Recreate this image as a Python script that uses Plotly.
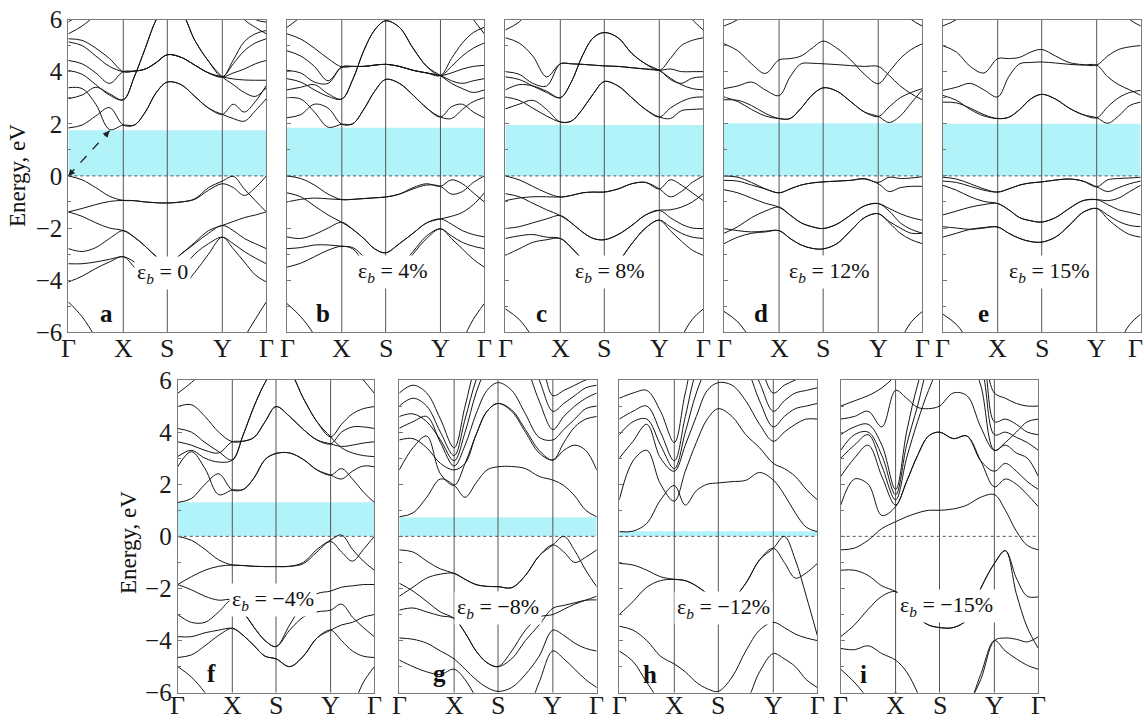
import plotly.graph_objects as go

# ---------------- data ----------------
K = [0, 0.25, 0.5, 0.75, 1.0, 1.2, 1.4, 1.6, 1.8, 2.05, 2.3, 2.55, 2.8, 3.0, 3.2, 3.4, 3.6]
K_TICKS = [0, 1.0, 1.8, 2.8, 3.6]
K_LABELS = ["Γ", "X", "S", "Y", "Γ"]
E_TICKS = [-6, -4, -2, 0, 2, 4, 6]
E_LABELS = ["−6", "−4", "−2", "0", "2", "4", "6"]

PANELS = ["a", "b", "c", "d", "e", "f", "g", "h", "i"]
STRAINS = ["0", "4%", "8%", "12%", "15%", "−4%", "−8%", "−12%", "−15%"]
GAPS = [1.75, 1.85, 1.95, 2.02, 2.0, 1.31, 0.73, 0.2, 0.0]
ARROW_TIP = [0.75, 1.73]

bands_a = [
    [1.84, 1.95, 2.30, 2.62, 1.95, 1.95, 2.45, 3.20, 3.60, 3.50, 3.05, 2.60, 2.36, 2.75, 2.45, 2.85, 3.47],
    [3.38, 3.35, 2.75, 1.78, 1.95, 1.95, 2.45, 3.20, 3.60, 3.50, 3.05, 2.60, 2.36, 2.20, 2.10, 2.50, 2.96],
    [2.96, 3.10, 3.40, 3.15, 2.92, 3.80, 4.90, 6.00, 6.60, 6.30, 5.20, 4.40, 3.80, 3.50, 3.20, 3.05, 3.38],
    [4.05, 3.90, 3.50, 3.10, 2.92, 3.80, 4.90, 6.00, 6.60, 6.30, 5.20, 4.40, 3.80, 4.45, 5.15, 5.45, 5.58],
    [4.43, 4.30, 3.95, 3.55, 4.00, 4.02, 4.10, 4.35, 4.65, 4.55, 4.25, 3.95, 3.80, 3.72, 3.68, 3.67, 3.67],
    [5.14, 5.00, 4.60, 4.20, 4.00, 4.02, 4.10, 4.35, 4.65, 4.55, 4.25, 3.95, 3.80, 3.95, 4.10, 4.30, 4.43],
    [5.26, 5.20, 4.90, 4.50, 4.00, 4.02, 4.10, 4.35, 4.65, 4.55, 4.25, 3.95, 3.80, 4.30, 4.80, 5.10, 5.26],
    [5.45, 5.75, 6.20, 7.00, 7.00, 7.00, 7.00, 7.00, 7.00, 7.00, 7.00, 7.00, 7.00, 6.60, 6.00, 5.70, 5.45],
    [5.90, 6.30, 6.90, 7.00, 7.00, 7.00, 7.00, 7.00, 7.00, 7.00, 7.00, 7.00, 7.00, 7.00, 6.40, 6.00, 5.90],
    [0.00, -0.15, -0.45, -0.78, -0.94, -0.95, -1.00, -1.03, -1.04, -1.00, -0.88, -0.45, -0.20, -0.02, -0.50, -0.95, -1.38],
    [-1.38, -1.25, -1.10, -0.98, -0.94, -0.95, -1.00, -1.03, -1.04, -1.00, -0.90, -0.55, -0.30, -0.45, -0.75, -0.45, 0.00],
    [-1.38, -1.55, -1.80, -2.00, -2.10, -2.35, -2.70, -3.10, -3.40, -3.00, -2.55, -2.10, -1.90, -1.75, -1.60, -1.50, -1.38],
    [-2.79, -2.90, -2.75, -2.40, -2.10, -2.35, -2.70, -3.10, -3.40, -3.00, -2.60, -2.20, -1.90, -2.10, -2.40, -2.60, -2.79],
    [-3.37, -3.37, -3.30, -3.20, -3.10, -3.30, -3.60, -3.90, -4.10, -3.60, -3.00, -2.60, -2.35, -2.60, -2.90, -3.15, -3.37],
    [-4.07, -3.85, -3.55, -3.30, -3.10, -3.50, -3.90, -4.15, -4.20, -4.25, -3.70, -3.00, -2.35, -2.80, -3.30, -3.80, -4.07],
    [-4.83, -5.40, -6.20, -7.00, -7.00, -7.00, -7.00, -7.00, -7.00, -7.00, -7.00, -7.00, -7.00, -7.00, -6.20, -5.50, -4.83],
]

bands_b = [
    [2.23, 2.35, 2.75, 2.60, 1.98, 2.00, 2.55, 3.25, 3.70, 3.55, 3.10, 2.60, 2.26, 2.65, 2.75, 2.45, 2.23],
    [3.00, 2.95, 2.45, 1.87, 1.98, 2.00, 2.55, 3.25, 3.70, 3.55, 3.10, 2.60, 2.26, 2.20, 2.55, 2.85, 3.00],
    [3.30, 3.40, 3.50, 3.15, 2.95, 3.70, 4.80, 5.60, 5.95, 5.70, 4.90, 4.20, 3.85, 3.55, 3.35, 3.20, 3.30],
    [3.73, 3.60, 3.30, 3.05, 2.95, 3.70, 4.80, 5.60, 5.95, 5.70, 4.90, 4.20, 3.85, 4.20, 4.60, 4.90, 5.10],
    [4.05, 3.95, 3.60, 3.55, 4.18, 4.20, 4.20, 4.25, 4.28, 4.20, 4.05, 3.95, 3.85, 3.65, 3.55, 3.65, 3.73],
    [4.80, 4.60, 4.20, 3.65, 4.18, 4.20, 4.20, 4.25, 4.28, 4.20, 4.05, 3.95, 3.85, 3.95, 4.10, 4.20, 4.24],
    [5.45, 5.25, 4.90, 4.50, 4.18, 4.20, 4.20, 4.25, 4.28, 4.20, 4.05, 3.95, 3.85, 4.50, 5.10, 5.50, 5.70],
    [5.70, 6.10, 6.60, 7.00, 7.00, 7.00, 7.00, 7.00, 7.00, 7.00, 7.00, 7.00, 7.00, 7.00, 6.60, 6.00, 5.45],
    [0.00, -0.10, -0.35, -0.70, -0.91, -0.90, -0.87, -0.84, -0.81, -0.70, -0.45, -0.30, -0.40, -0.15, -0.30, -0.65, -1.00],
    [-1.00, -0.90, -0.85, -0.88, -0.91, -0.90, -0.87, -0.84, -0.81, -0.70, -0.50, -0.35, -0.40, -0.70, -0.60, -0.25, 0.00],
    [-0.65, -0.80, -1.15, -1.50, -1.78, -2.05, -2.40, -2.80, -2.95, -2.60, -2.20, -1.80, -1.65, -1.55, -1.40, -1.10, -0.65],
    [-2.34, -2.40, -2.25, -2.00, -1.78, -2.05, -2.40, -2.80, -2.95, -2.60, -2.20, -1.80, -1.65, -1.85, -2.10, -2.25, -2.34],
    [-2.79, -2.75, -2.65, -2.65, -2.70, -2.75, -3.10, -3.50, -3.80, -3.50, -2.90, -2.30, -2.03, -2.30, -2.55, -2.70, -2.79],
    [-3.50, -3.35, -3.10, -2.85, -2.70, -2.80, -3.30, -3.70, -3.90, -3.70, -3.00, -2.40, -2.03, -2.40, -2.80, -3.20, -3.50],
    [-4.90, -5.40, -6.10, -7.00, -7.00, -7.00, -7.00, -7.00, -7.00, -7.00, -7.00, -7.00, -7.00, -7.00, -6.30, -5.50, -4.90],
]

bands_c = [
    [2.57, 2.75, 2.90, 2.55, 2.07, 2.10, 2.55, 3.15, 3.62, 3.45, 3.00, 2.55, 2.26, 2.60, 2.85, 3.00, 3.03],
    [3.03, 2.90, 2.60, 2.30, 2.07, 2.10, 2.55, 3.15, 3.62, 3.45, 3.00, 2.55, 2.26, 2.20, 2.50, 2.55, 2.57],
    [3.30, 3.50, 3.45, 3.25, 3.00, 3.60, 4.60, 5.30, 5.50, 5.30, 4.70, 4.30, 4.05, 3.75, 3.50, 3.35, 3.30],
    [3.80, 3.70, 3.45, 3.20, 3.00, 3.60, 4.60, 5.30, 5.50, 5.30, 4.70, 4.30, 4.05, 4.50, 5.00, 5.20, 5.30],
    [4.00, 3.90, 3.55, 3.45, 4.30, 4.30, 4.28, 4.25, 4.22, 4.20, 4.15, 4.10, 4.05, 3.70, 3.55, 3.75, 3.80],
    [5.30, 5.10, 4.60, 3.80, 4.30, 4.30, 4.28, 4.25, 4.22, 4.20, 4.15, 4.10, 4.05, 4.10, 4.00, 4.00, 4.00],
    [5.60, 5.90, 6.50, 7.00, 7.00, 7.00, 7.00, 7.00, 7.00, 7.00, 7.00, 7.00, 7.00, 7.00, 6.60, 6.00, 5.60],
    [0.00, -0.15, -0.40, -0.65, -0.81, -0.75, -0.65, -0.62, -0.62, -0.50, -0.30, -0.25, -0.50, -0.15, -0.35, -0.65, -0.95],
    [-0.95, -0.85, -0.80, -0.80, -0.81, -0.75, -0.65, -0.62, -0.62, -0.50, -0.30, -0.25, -0.50, -0.80, -0.60, -0.25, 0.00],
    [-0.68, -0.80, -1.05, -1.30, -1.52, -1.80, -2.15, -2.40, -2.45, -2.25, -1.90, -1.50, -1.32, -1.30, -1.20, -1.00, -0.68],
    [-2.02, -1.95, -1.80, -1.65, -1.52, -1.80, -2.15, -2.40, -2.45, -2.25, -1.90, -1.50, -1.32, -1.60, -1.85, -2.00, -2.02],
    [-2.40, -2.30, -2.25, -2.35, -2.40, -2.75, -3.20, -3.55, -3.70, -3.30, -2.60, -2.00, -1.70, -1.95, -2.20, -2.35, -2.40],
    [-3.05, -2.80, -2.55, -2.45, -2.40, -2.75, -3.20, -3.55, -3.70, -3.30, -2.60, -2.00, -1.70, -2.10, -2.50, -2.85, -3.05],
    [-5.10, -5.50, -6.20, -7.00, -7.00, -7.00, -7.00, -7.00, -7.00, -7.00, -7.00, -7.00, -7.00, -7.00, -6.20, -5.50, -5.10],
]

bands_d = [
    [2.92, 2.90, 2.70, 2.40, 2.20, 2.20, 2.60, 3.10, 3.38, 3.25, 2.85, 2.45, 2.28, 2.05, 2.30, 2.80, 3.30],
    [3.03, 2.85, 2.55, 2.30, 2.20, 2.20, 2.60, 3.10, 3.38, 3.25, 2.85, 2.45, 2.28, 2.65, 3.00, 3.20, 3.35],
    [3.35, 3.45, 3.60, 3.30, 3.08, 3.80, 4.30, 4.32, 4.30, 4.27, 4.23, 4.20, 4.20, 3.85, 3.45, 3.15, 2.92],
    [5.07, 4.80, 4.30, 3.93, 4.45, 4.50, 4.60, 4.90, 5.17, 4.90, 4.45, 3.90, 3.54, 4.00, 4.50, 4.85, 5.07],
    [5.75, 6.00, 6.50, 7.00, 7.00, 7.00, 7.00, 7.00, 7.00, 7.00, 7.00, 7.00, 7.00, 7.00, 6.50, 6.00, 5.75],
    [0.00, -0.05, -0.25, -0.50, -0.65, -0.50, -0.35, -0.27, -0.23, -0.20, -0.17, -0.10, -0.25, -0.05, -0.10, -0.08, -0.03],
    [-0.17, -0.20, -0.35, -0.50, -0.65, -0.50, -0.35, -0.27, -0.23, -0.20, -0.17, -0.12, -0.30, -0.60, -0.45, -0.40, -0.40],
    [-0.53, -0.65, -0.85, -1.05, -1.20, -1.50, -1.80, -1.95, -2.02, -1.85, -1.50, -1.15, -1.06, -1.25, -1.45, -1.60, -1.70],
    [-2.20, -1.95, -1.60, -1.35, -1.20, -1.50, -1.80, -1.95, -2.02, -1.85, -1.50, -1.15, -1.06, -1.35, -1.80, -2.05, -2.20],
    [-2.60, -2.35, -2.20, -2.15, -2.10, -2.40, -2.65, -2.78, -2.80, -2.60, -2.10, -1.60, -1.45, -1.75, -2.00, -2.20, -2.20],
    [-2.02, -2.10, -2.15, -2.12, -2.10, -2.40, -2.65, -2.78, -2.80, -2.60, -2.10, -1.60, -1.45, -1.80, -2.20, -2.45, -2.60],
    [-5.20, -5.60, -6.30, -7.00, -7.00, -7.00, -7.00, -7.00, -7.00, -7.00, -7.00, -7.00, -7.00, -7.00, -6.30, -5.60, -5.20],
]

bands_e = [
    [2.83, 2.80, 2.60, 2.35, 2.20, 2.25, 2.55, 2.95, 3.13, 2.95, 2.60, 2.35, 2.23, 2.02, 2.30, 2.70, 2.83],
    [3.09, 2.90, 2.55, 2.30, 2.20, 2.25, 2.55, 2.95, 3.13, 2.95, 2.60, 2.35, 2.23, 2.65, 3.00, 3.20, 3.28],
    [3.28, 3.40, 3.55, 3.30, 3.03, 3.80, 4.30, 4.35, 4.37, 4.33, 4.28, 4.25, 4.25, 3.80, 3.50, 3.30, 3.09],
    [5.00, 4.75, 4.20, 3.95, 4.50, 4.50, 4.55, 4.75, 4.85, 4.60, 4.35, 4.27, 4.25, 4.60, 4.85, 4.95, 5.00],
    [5.75, 6.00, 6.50, 7.00, 7.00, 7.00, 7.00, 7.00, 7.00, 7.00, 7.00, 7.00, 7.00, 7.00, 6.50, 6.00, 5.75],
    [-0.05, -0.12, -0.30, -0.50, -0.62, -0.50, -0.35, -0.27, -0.23, -0.16, -0.12, -0.20, -0.42, -0.15, -0.10, -0.08, -0.05],
    [-0.20, -0.25, -0.40, -0.55, -0.62, -0.50, -0.35, -0.27, -0.23, -0.16, -0.12, -0.20, -0.42, -0.60, -0.45, -0.30, -0.20],
    [-0.36, -0.55, -0.80, -0.98, -1.06, -1.30, -1.60, -1.72, -1.77, -1.60, -1.25, -0.95, -0.91, -1.10, -1.30, -1.40, -1.50],
    [-1.50, -1.35, -1.20, -1.10, -1.06, -1.30, -1.60, -1.72, -1.77, -1.60, -1.25, -0.95, -0.91, -0.95, -0.85, -0.60, -0.36],
    [-1.95, -2.00, -2.05, -2.00, -1.96, -2.20, -2.40, -2.52, -2.54, -2.35, -1.90, -1.40, -1.25, -1.50, -1.75, -1.90, -1.95],
    [-2.35, -2.20, -2.05, -1.98, -1.96, -2.20, -2.40, -2.52, -2.54, -2.35, -1.90, -1.40, -1.25, -1.65, -2.00, -2.25, -2.35],
    [-5.30, -5.70, -6.40, -7.00, -7.00, -7.00, -7.00, -7.00, -7.00, -7.00, -7.00, -7.00, -7.00, -7.00, -6.40, -5.70, -5.30],
]

bands_f = [
    [1.30, 1.45, 2.00, 2.40, 1.78, 1.80, 2.25, 2.95, 3.18, 3.20, 2.95, 2.55, 2.35, 2.60, 2.20, 1.70, 1.30],
    [2.67, 3.25, 2.60, 1.60, 1.78, 1.80, 2.25, 2.95, 3.18, 3.20, 2.95, 2.55, 2.35, 2.20, 2.50, 2.70, 2.67],
    [3.06, 3.30, 3.00, 2.85, 2.93, 3.90, 5.00, 5.90, 6.50, 6.30, 5.30, 4.40, 3.82, 3.40, 3.20, 3.10, 3.06],
    [3.63, 3.50, 3.30, 3.20, 3.63, 3.65, 3.80, 4.40, 4.98, 4.60, 4.10, 3.70, 3.55, 3.45, 3.50, 3.58, 3.63],
    [4.14, 4.00, 3.60, 3.25, 2.93, 3.90, 5.00, 5.90, 6.50, 6.30, 5.30, 4.40, 3.82, 4.30, 4.70, 4.90, 4.98],
    [4.98, 5.05, 4.60, 4.00, 3.63, 3.65, 3.80, 4.40, 4.98, 4.60, 4.10, 3.70, 3.55, 4.00, 4.20, 4.20, 4.14],
    [5.49, 5.90, 6.40, 7.00, 7.00, 7.00, 7.00, 7.00, 7.00, 7.00, 7.00, 7.00, 7.00, 7.00, 6.50, 6.00, 5.49],
    [0.00, -0.15, -0.50, -0.90, -1.10, -1.12, -1.15, -1.16, -1.16, -1.15, -1.00, -0.50, -0.14, 0.05, -0.50, -0.95, -1.30],
    [-1.85, -1.55, -1.30, -1.15, -1.10, -1.12, -1.15, -1.16, -1.16, -1.15, -1.05, -0.60, -0.20, -0.60, -0.95, -0.50, 0.00],
    [-1.85, -2.05, -2.30, -2.45, -2.44, -2.90, -3.50, -4.00, -4.23, -3.40, -2.60, -2.20, -2.10, -1.95, -1.90, -1.85, -1.85],
    [-3.00, -3.30, -3.30, -2.90, -2.44, -2.90, -3.50, -4.00, -4.23, -3.60, -3.10, -2.90, -2.83, -2.60, -3.10, -3.50, -3.85],
    [-4.65, -4.55, -4.20, -3.80, -3.53, -3.80, -4.20, -4.60, -4.70, -5.00, -4.60, -3.90, -3.60, -4.00, -4.40, -4.60, -4.65],
    [-3.85, -3.85, -3.70, -3.60, -3.53, -3.80, -4.20, -4.60, -4.70, -5.00, -4.60, -3.90, -3.60, -3.40, -3.30, -3.10, -3.00],
    [-5.00, -5.40, -6.00, -6.80, -7.00, -7.00, -7.00, -7.00, -7.00, -7.00, -7.00, -7.00, -7.00, -7.00, -6.50, -5.60, -5.00],
]

bands_g = [
    [0.75, 0.90, 1.50, 2.20, 1.96, 1.50, 2.05, 2.55, 2.67, 2.68, 2.60, 2.30, 2.16, 1.95, 1.55, 1.00, 0.75],
    [2.55, 3.40, 3.85, 2.40, 1.96, 2.80, 3.90, 4.80, 5.10, 4.80, 4.00, 3.20, 2.93, 3.30, 3.50, 3.30, 2.55],
    [3.70, 3.75, 3.40, 2.80, 2.55, 2.80, 3.90, 4.80, 5.10, 4.85, 4.10, 3.30, 2.93, 3.60, 4.20, 4.50, 4.60],
    [4.15, 4.40, 4.60, 3.60, 2.70, 3.50, 4.70, 5.60, 5.90, 5.60, 4.70, 3.80, 3.70, 4.10, 4.50, 4.90, 5.00],
    [4.60, 4.70, 4.40, 3.70, 2.90, 4.00, 5.50, 6.50, 7.00, 7.00, 6.50, 5.20, 4.10, 4.60, 5.00, 5.30, 5.50],
    [5.00, 5.30, 5.00, 4.00, 3.10, 4.50, 6.00, 7.00, 7.00, 7.00, 7.00, 6.00, 4.80, 5.10, 5.40, 5.70, 5.80],
    [5.50, 5.80, 5.50, 4.50, 3.40, 5.00, 6.50, 7.00, 7.00, 7.00, 7.00, 6.80, 5.40, 5.60, 5.80, 6.00, 6.10],
    [-0.52, -0.60, -0.95, -1.25, -1.42, -1.65, -1.85, -1.92, -1.93, -1.97, -1.50, -0.75, -0.33, 0.00, -0.55, -1.30, -1.93],
    [-2.30, -1.95, -1.60, -1.45, -1.42, -1.65, -1.85, -1.92, -1.93, -1.97, -1.50, -0.75, -0.33, -0.60, -1.00, -0.80, -0.52],
    [-1.80, -2.10, -2.50, -2.90, -3.15, -3.70, -4.40, -4.85, -5.00, -4.40, -3.60, -3.10, -3.00, -2.80, -2.60, -2.45, -2.30],
    [-2.83, -2.75, -2.90, -3.05, -3.15, -3.70, -4.40, -4.85, -5.00, -4.70, -4.00, -3.40, -2.76, -2.65, -2.55, -2.45, -2.44],
    [-3.90, -3.95, -4.10, -4.40, -4.70, -5.10, -5.50, -5.80, -5.95, -5.80, -5.30, -4.60, -3.60, -3.80, -4.10, -4.30, -4.40],
    [-4.75, -5.00, -5.20, -5.30, -5.10, -5.50, -6.20, -7.00, -7.00, -7.00, -6.80, -5.60, -4.40, -4.70, -5.10, -5.50, -5.80],
]

bands_h = [
    [0.18, 0.20, 0.50, 1.40, 1.95, 1.20, 1.75, 2.00, 2.05, 2.10, 2.15, 2.45, 2.16, 1.60, 0.90, 0.35, 0.18],
    [1.40, 2.90, 3.30, 2.00, 1.35, 2.50, 3.60, 4.50, 4.90, 4.60, 3.90, 3.40, 2.80, 2.60, 2.30, 1.80, 1.40],
    [3.00, 3.65, 4.30, 3.00, 2.50, 3.50, 4.60, 5.60, 5.90, 5.80, 5.20, 4.30, 3.65, 4.00, 4.30, 4.50, 4.50],
    [3.90, 4.40, 4.50, 3.50, 2.60, 4.00, 5.50, 6.50, 7.00, 7.00, 6.50, 5.20, 4.20, 4.60, 4.90, 5.00, 5.10],
    [4.50, 4.80, 5.00, 4.00, 2.90, 4.60, 6.30, 7.00, 7.00, 7.00, 7.00, 5.90, 4.80, 5.20, 5.50, 5.60, 5.70],
    [5.30, 5.50, 5.60, 4.80, 3.60, 5.50, 7.00, 7.00, 7.00, 7.00, 7.00, 6.50, 5.50, 5.80, 6.00, 6.20, 6.30],
    [-1.04, -1.10, -1.30, -1.55, -1.65, -1.70, -1.90, -2.20, -2.50, -2.40, -1.80, -0.90, -0.46, 0.00, -0.90, -2.30, -3.80],
    [-3.00, -2.50, -1.95, -1.70, -1.65, -1.70, -1.90, -2.20, -2.50, -2.40, -1.80, -0.90, -0.46, -1.00, -1.60, -1.40, -1.04],
    [-3.45, -3.60, -4.00, -4.60, -4.90, -5.20, -5.60, -5.85, -5.95, -5.40, -4.40, -3.60, -3.30, -3.50, -3.75, -3.90, -4.00],
    [-4.40, -4.80, -5.60, -6.30, -6.50, -6.50, -6.50, -6.50, -6.50, -6.50, -6.30, -5.20, -4.50, -4.70, -5.00, -5.50, -5.80],
]

bands_i = [
    [-0.52, -0.45, -0.15, 0.30, 0.56, 0.75, 0.90, 1.00, 1.00, 1.05, 1.20, 1.50, 1.60, 1.00, 0.20, -0.35, -0.52],
    [1.20, 2.20, 2.00, 0.80, 1.14, 2.10, 3.10, 3.85, 4.00, 3.75, 3.85, 2.90, 1.90, 2.20, 2.00, 1.60, 1.14],
    [2.30, 3.00, 3.50, 2.30, 1.20, 2.10, 3.10, 3.85, 4.00, 3.75, 3.85, 2.90, 2.50, 2.80, 2.50, 2.10, 1.80],
    [3.00, 3.50, 3.90, 2.70, 1.40, 3.00, 4.40, 5.60, 6.50, 7.00, 7.00, 5.80, 3.30, 3.50, 3.20, 3.00, 2.30],
    [3.30, 3.90, 4.00, 3.10, 1.60, 3.50, 5.00, 6.50, 7.00, 7.00, 7.00, 6.50, 3.90, 4.00, 3.80, 3.60, 3.30],
    [3.90, 4.20, 4.30, 3.50, 1.80, 4.00, 5.80, 7.00, 7.00, 7.00, 7.00, 7.00, 4.40, 4.50, 4.30, 4.00, 3.90],
    [4.50, 4.60, 4.80, 4.20, 5.60, 5.30, 4.95, 4.90, 5.00, 5.50, 5.40, 4.20, 3.30, 3.60, 4.00, 4.40, 4.50],
    [5.00, 5.20, 5.40, 5.70, 6.20, 7.00, 7.00, 7.00, 7.00, 7.00, 7.00, 7.00, 5.50, 5.30, 5.10, 5.00, 5.00],
    [-1.30, -1.30, -1.50, -1.90, -2.12, -2.50, -3.10, -3.40, -3.50, -3.50, -3.20, -2.00, -1.04, -0.55, -1.60, -2.30, -2.32],
    [-3.85, -3.40, -2.80, -2.30, -2.12, -2.50, -3.10, -3.40, -3.50, -3.50, -3.20, -2.00, -1.04, -0.55, -2.20, -3.50, -4.30],
    [-4.30, -4.35, -4.20, -4.50, -4.75, -5.20, -6.00, -7.00, -7.00, -7.00, -6.50, -5.50, -4.00, -3.90, -3.95, -4.05, -3.85],
    [-5.10, -5.60, -6.20, -6.60, -6.00, -6.60, -7.00, -7.00, -7.00, -7.00, -6.60, -5.30, -4.00, -4.40, -4.70, -4.95, -5.10],
]

BANDS = [bands_a, bands_b, bands_c, bands_d, bands_e, bands_f, bands_g, bands_h, bands_i]

# ---------------- layout (pixel geometry) ----------------
W, H = 1144, 722
PANEL_PX = [  # left, right, top, bottom
    (68.3, 266.3, 19.5, 332.3), (287.0, 484.3, 19.5, 332.3), (505.3, 703.3, 19.5, 332.3),
    (724.0, 922.3, 19.5, 332.3), (942.7, 1140.7, 19.5, 332.3),
    (177.7, 374.3, 380.0, 692.7), (399.3, 596.7, 380.0, 692.7), (619.3, 817.3, 380.0, 692.7),
    (840.7, 1038.3, 380.0, 692.7),
]
KLABEL_Y_PX = [348] * 5 + [705] * 4
LABEL_POS = [(1.72, -3.74), (1.93, -3.69), (1.90, -3.69), (1.92, -3.69), (1.95, -3.69),
             (1.75, -2.44), (1.80, -2.76), (1.89, -2.76), (1.93, -2.69)]
LETTER_POS = [(0.69, -5.27), (0.66, -5.27), (0.66, -5.27), (0.68, -5.27), (0.74, -5.27),
              (0.62, -5.25), (0.74, -5.25), (0.56, -5.3), (0.41, -5.3)]

SERIF = "Liberation Serif"
fig = go.Figure()
shapes, annotations = [], []
layout_axes = {}

for n, (bands, gap, strain, letter, px) in enumerate(zip(BANDS, GAPS, STRAINS, PANELS, PANEL_PX), start=1):
    xa = "x" if n == 1 else f"x{n}"
    ya = "y" if n == 1 else f"y{n}"
    xkey = "xaxis" if n == 1 else f"xaxis{n}"
    ykey = "yaxis" if n == 1 else f"yaxis{n}"
    l, r, t, b = px
    show_y = n in (1, 6)
    layout_axes[xkey] = dict(
        domain=[l / W, r / W], range=[0, 3.6], anchor=ya, automargin=False,
        tickmode="array", tickvals=K_TICKS, ticks="", showticklabels=False,
        showgrid=False, zeroline=False, showline=True, mirror=True,
        linecolor="#7a7a7a", linewidth=1,
    )
    layout_axes[ykey] = dict(
        domain=[1 - b / H, 1 - t / H], range=[-6, 6], anchor=xa, automargin=False,
        tickmode="array", tickvals=E_TICKS, ticktext=E_LABELS,
        ticks="inside", ticklen=4, tickcolor="#777", tickwidth=1,
        minor=dict(dtick=1, tick0=0, ticks="inside", ticklen=3, tickcolor="#777"),
        showticklabels=show_y, showgrid=False, zeroline=False,
        showline=True, mirror=True, linecolor="#7a7a7a", linewidth=1,
        tickfont=dict(family=SERIF, size=25, color="#1a1a1a"),
    )
    if gap > 0:
        shapes.append(dict(type="rect", xref=xa, yref=ya, x0=0, x1=3.6, y0=0, y1=gap,
                           fillcolor="#b2f3fa", line=dict(width=0), layer="below"))
    for kv in K_TICKS[1:-1]:
        shapes.append(dict(type="line", xref=xa, yref=ya, x0=kv, x1=kv, y0=-6, y1=6,
                           line=dict(color="#555", width=1), layer="below"))
    shapes.append(dict(type="line", xref=xa, yref=ya, x0=0, x1=3.6, y0=0, y1=0,
                       line=dict(color="#555", width=1, dash="dot"), layer="below"))
    for band in bands:
        fig.add_trace(go.Scatter(
            x=K, y=band, xaxis=xa, yaxis=ya, mode="lines",
            line=dict(color="#141414", width=1.0, shape="spline", smoothing=1.0),
            showlegend=False, hoverinfo="skip"))
    # high-symmetry point labels (drawn as text so the edge label is not dropped)
    for j, (kv, kl) in enumerate(zip(K_TICKS, K_LABELS)):
        shift = -5 if (n == 5 and j == len(K_TICKS) - 1) else 0
        annotations.append(dict(xref=xa, yref="paper", x=kv, y=1 - KLABEL_Y_PX[n - 1] / H,
                                xanchor="center", yanchor="middle", showarrow=False, xshift=shift,
                                borderpad=0,
                                text=kl, font=dict(family=SERIF, size=26, color="#1a1a1a")))
    lx, ly = LABEL_POS[n - 1]
    annotations.append(dict(xref=xa, yref=ya, x=lx, y=ly, showarrow=False,
                            text=f"ε<sub><i>b</i></sub> = {strain}", bgcolor="white",
                            borderpad=2, font=dict(family=SERIF, size=22, color="#111")))
    tx, ty = LETTER_POS[n - 1]
    annotations.append(dict(xref=xa, yref=ya, x=tx, y=ty, showarrow=False,
                            text=f"<b>{letter}</b>", font=dict(family=SERIF, size=25, color="#111")))

# indirect-gap arrow in panel a
fig.add_trace(go.Scatter(x=[0, ARROW_TIP[0]], y=[0, ARROW_TIP[1]], xaxis="x", yaxis="y",
                         mode="lines", line=dict(color="#222", width=1.3, dash="dash"),
                         showlegend=False, hoverinfo="skip"))
annotations.append(dict(xref="x", yref="y", axref="x", ayref="y", x=ARROW_TIP[0], y=ARROW_TIP[1],
                        ax=ARROW_TIP[0] * 0.93, ay=ARROW_TIP[1] * 0.93, showarrow=True, text="",
                        arrowhead=2, arrowsize=1, arrowwidth=1.3, arrowcolor="#222"))
annotations.append(dict(xref="x", yref="y", axref="x", ayref="y", x=0, y=0,
                        ax=ARROW_TIP[0] * 0.07, ay=ARROW_TIP[1] * 0.07, showarrow=True, text="",
                        arrowhead=2, arrowsize=1, arrowwidth=1.3, arrowcolor="#222"))

for yc, xc in ((176, 17), (543, 128)):
    annotations.append(dict(xref="paper", yref="paper", x=xc / W, y=1 - yc / H, showarrow=False,
                            xanchor="center", yanchor="middle",
                            text="Energy, eV", textangle=-90,
                            font=dict(family=SERIF, size=23, color="#111")))

fig.update_layout(width=W, height=H, margin=dict(l=0, r=0, t=0, b=0, autoexpand=False),
                  paper_bgcolor="white", plot_bgcolor="white",
                  font=dict(family=SERIF),
                  shapes=shapes, annotations=annotations, **layout_axes)
fig.write_html("out.html")
